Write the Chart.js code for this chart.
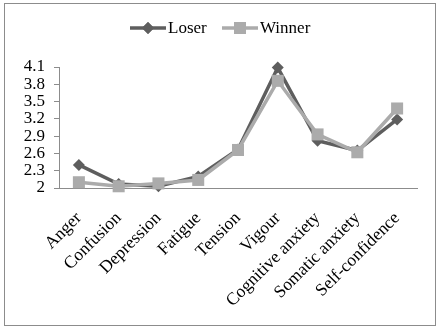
<!DOCTYPE html>
<html>
<head>
<meta charset="utf-8">
<script src="https://cdn.jsdelivr.net/npm/chart.js@4.4.1/dist/chart.umd.min.js"></script>
<style>
  html, body { margin: 0; padding: 0; background: #fff; }
  #wrap { position: relative; width: 438px; height: 334px; }
  #frame { position: absolute; left: 4px; top: 3px; width: 430px; height: 321px; border: 1px solid #8c8c8c; }
  canvas { position: absolute; left: 0; top: 0; }
</style>
</head>
<body>
<div id="wrap">
  <div id="frame"></div>
  <canvas id="chartMood" width="438" height="334"></canvas>
</div>
<script>
const categories = ["Anger", "Confusion", "Depression", "Fatigue", "Tension", "Vigour",
  "Cognitive anxiety", "Somatic anxiety", "Self-confidence"];
const loserValues = [2.4, 2.07, 2.03, 2.2, 2.67, 4.09, 2.82, 2.65, 3.19];
const winnerValues = [2.1, 2.03, 2.08, 2.14, 2.66, 3.86, 2.93, 2.62, 3.38];
const yTicks = [2, 2.3, 2.6, 2.9, 3.2, 3.5, 3.8, 4.1];

const loserColor = "#5e5e5e";
const winnerColor = "#ababab";
const fontFamily = "'Liberation Serif', 'Times New Roman', serif";

// legend drawn by hand: a short line with the marker on it, then the label
const lineLegend = {
  id: "lineLegend",
  afterDraw(chart) {
    const ctx = chart.ctx;
    const items = [
      { text: "Loser", color: loserColor, style: "rectRot", radius: 6, x: 130 },
      { text: "Winner", color: winnerColor, style: "rect", radius: 8.5, x: 222 },
    ];
    const y = 28;
    ctx.save();
    items.forEach((it) => {
      ctx.strokeStyle = it.color;
      ctx.lineWidth = 3.5;
      ctx.beginPath();
      ctx.moveTo(it.x, y);
      ctx.lineTo(it.x + 36, y);
      ctx.stroke();
      ctx.fillStyle = it.color;
      Chart.helpers.drawPoint(ctx, { pointStyle: it.style, radius: it.radius, borderWidth: 0 }, it.x + 18, y);
      ctx.fill();
      ctx.fillStyle = "#000";
      ctx.font = "17px " + fontFamily;
      ctx.textBaseline = "middle";
      ctx.fillText(it.text, it.x + 38, y + 1);
    });
    ctx.restore();
  },
};

const data = {
  labels: categories,
  datasets: [
    {
      label: "Loser",
      data: loserValues,
      borderColor: loserColor,
      backgroundColor: loserColor,
      borderWidth: 3.5,
      pointStyle: "rectRot",
      pointRadius: 6,
      pointBorderWidth: 0,
      tension: 0,
      clip: false,
      order: 1,
    },
    {
      label: "Winner",
      data: winnerValues,
      borderColor: winnerColor,
      backgroundColor: winnerColor,
      borderWidth: 3.5,
      pointStyle: "rect",
      pointRadius: 8.5,
      pointBorderWidth: 0,
      tension: 0,
      clip: false,
      order: 0,
    },
  ],
};

const config = {
  type: "line",
  data,
  plugins: [lineLegend],
  options: {
    responsive: false,
    animation: false,
    layout: { padding: { left: 0, top: 67, right: 21, bottom: 0 } },
    plugins: {
      legend: { display: false },
      tooltip: { enabled: false },
    },
    scales: {
      x: {
        offset: true,
        afterFit: (scale) => { scale.height = 146; },
        grid: { display: false, drawTicks: false },
        border: { color: "#8c8c8c", width: 1 },
        ticks: {
          color: "#000",
          font: { family: fontFamily, size: 17.5 },
          minRotation: 45,
          maxRotation: 45,
          padding: 20,
          autoSkip: false,
        },
      },
      y: {
        min: 2,
        max: 4.1,
        afterFit: (scale) => { scale.width = 59; },
        afterBuildTicks: (scale) => { scale.ticks = yTicks.map((v) => ({ value: v })); },
        grid: { drawOnChartArea: false, drawTicks: true, tickLength: 5, color: "#8c8c8c" },
        border: { color: "#8c8c8c", width: 1 },
        ticks: {
          color: "#000",
          font: { family: fontFamily, size: 17 },
          padding: 9,
          autoSkip: false,
          callback: (v) => String(v),
        },
      },
    },
  },
};

const chartMood = new Chart(document.getElementById("chartMood"), config);
</script>
</body>
</html>
